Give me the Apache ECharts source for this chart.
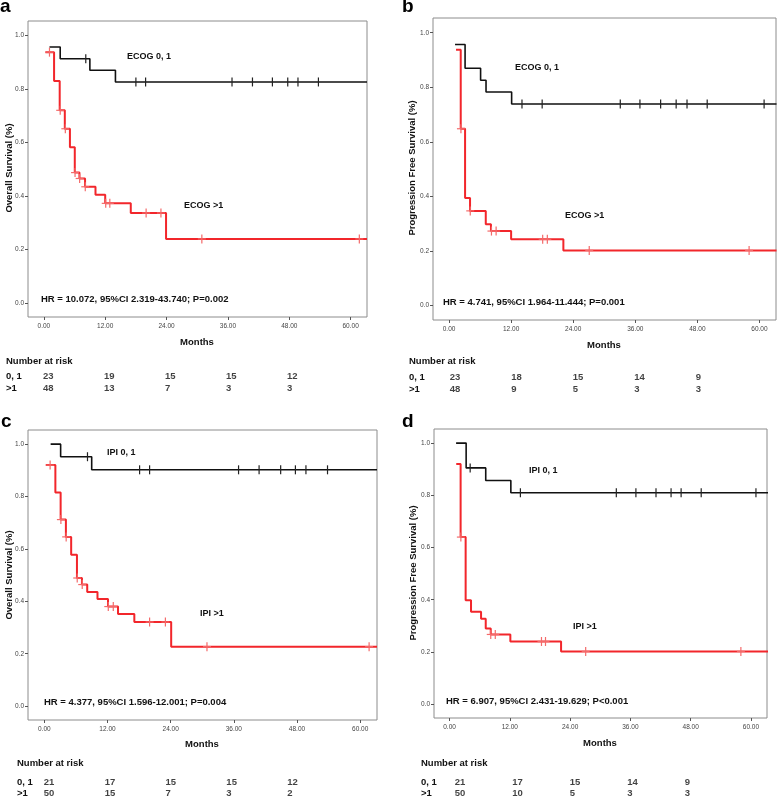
<!DOCTYPE html>
<html><head><meta charset="utf-8">
<script src="https://cdn.jsdelivr.net/npm/echarts@6/dist/echarts.min.js"></script>
<style>html,body{margin:0;padding:0;background:#fff}#c{width:778px;height:799px}</style>
</head><body><div id="c"></div>
<script>
// ---- tick labels ----
const monthTicks = [0, 12, 24, 36, 48, 60];
const survTicks = [0, 0.2, 0.4, 0.6, 0.8, 1.0];
const riskTimes = [0, 12, 24, 36, 48];

// ---- panel a: OS by ECOG ----
const aLowT  = [1.1, 3.2, 9.0, 14.0, 63.2];
const aLowS  = [0.957, 0.913, 0.870, 0.826, 0.826];
const aLowCens = [8.2, 18.0, 19.9, 36.8, 40.8, 44.7, 47.7, 49.7, 53.7];
const aHighT = [0.3, 2.0, 3.1, 4.1, 5.1, 6.05, 6.96, 8.06, 10.1, 12.0, 17.0, 23.9, 63.2];
const aHighS = [0.9375, 0.830, 0.720, 0.651, 0.582, 0.487, 0.465, 0.434, 0.404, 0.372, 0.336, 0.239, 0.239];
const aHighCens = [1.1, 3.2, 4.2, 6.1, 7.0, 8.1, 12.1, 12.9, 20.0, 22.9, 30.9, 61.7];
const aRiskLow = [23, 19, 15, 15, 12];
const aRiskHigh = [48, 13, 7, 3, 3];

// ---- panel b: PFS by ECOG ----
const bLowT  = [1.16, 3.1, 6.1, 7.15, 12.1, 63.3];
const bLowS  = [0.957, 0.870, 0.826, 0.783, 0.739, 0.739];
const bLowCens = [14.1, 18.0, 33.1, 36.9, 40.9, 43.9, 46.0, 49.9, 60.9];
const bHighT = [1.35, 2.26, 3.1, 4.06, 7.1, 8.1, 12.0, 22.1, 63.3];
const bHighS = [0.938, 0.648, 0.394, 0.347, 0.298, 0.273, 0.243, 0.202, 0.202];
const bHighCens = [2.3, 4.1, 8.2, 9.1, 18.1, 19.0, 27.1, 58.0];
const bRiskLow = [23, 18, 15, 14, 9];
const bRiskHigh = [48, 9, 5, 3, 3];

// ---- panel c: OS by IPI ----
const cLowT  = [1.2, 3.1, 9.0, 63.2];
const cLowS  = [1.0, 0.952, 0.902, 0.902];
const cLowCens = [8.2, 18.1, 20.0, 36.9, 40.8, 44.9, 47.7, 49.7, 53.8];
const cHighT = [0.27, 2.1, 3.1, 4.1, 5.1, 6.2, 7.15, 8.15, 10.1, 12.1, 14.0, 17.1, 24.1, 63.2];
const cHighS = [0.92, 0.815, 0.712, 0.646, 0.578, 0.489, 0.464, 0.436, 0.409, 0.380, 0.352, 0.321, 0.227, 0.227];
const cHighCens = [1.1, 3.15, 4.15, 6.25, 7.2, 12.15, 13.1, 20.0, 23.0, 30.9, 61.7];
const cRiskLow = [21, 17, 15, 15, 12];
const cRiskHigh = [50, 15, 7, 3, 2];

// ---- panel d: PFS by IPI ----
const dLowT  = [1.3, 3.3, 7.2, 12.2, 63.4];
const dLowS  = [1.0, 0.905, 0.857, 0.810, 0.810];
const dLowCens = [4.1, 14.1, 33.2, 37.1, 41.1, 44.1, 46.1, 50.1, 61.0];
const dHighT = [1.33, 2.2, 3.2, 4.27, 6.27, 7.2, 8.2, 12.1, 22.2, 63.4];
const dHighS = [0.92, 0.64, 0.398, 0.354, 0.327, 0.290, 0.267, 0.240, 0.202, 0.202];
const dHighCens = [2.25, 8.2, 9.1, 18.3, 19.1, 27.1, 58.0];
const dRiskLow = [21, 17, 15, 14, 9];
const dRiskHigh = [50, 10, 5, 3, 3];

// ---- texts ----
const panelLetters = ['a', 'b', 'c', 'd'];
const yTitles = ['Overall Survival (%)', 'Progression Free Survival (%)', 'Overall Survival (%)', 'Progression Free Survival (%)'];
const lowNames = ['ECOG 0, 1', 'ECOG 0, 1', 'IPI 0, 1', 'IPI 0, 1'];
const highNames = ['ECOG >1', 'ECOG >1', 'IPI >1', 'IPI >1'];
const hrTexts = ['HR = 10.072, 95%CI 2.319-43.740; P=0.002', 'HR = 4.741, 95%CI 1.964-11.444; P=0.001',
                 'HR = 4.377, 95%CI 1.596-12.001; P=0.004', 'HR = 6.907, 95%CI 2.431-19.629; P<0.001'];
const xTitle = 'Months';
const riskTitle = 'Number at risk';
const riskRowNames = ['0, 1', '>1'];

const data = [
  {lowT: aLowT, lowS: aLowS, lowC: aLowCens, highT: aHighT, highS: aHighS, highC: aHighCens, rl: aRiskLow, rh: aRiskHigh},
  {lowT: bLowT, lowS: bLowS, lowC: bLowCens, highT: bHighT, highS: bHighS, highC: bHighCens, rl: bRiskLow, rh: bRiskHigh},
  {lowT: cLowT, lowS: cLowS, lowC: cLowCens, highT: cHighT, highS: cHighS, highC: cHighCens, rl: cRiskLow, rh: cRiskHigh},
  {lowT: dLowT, lowS: dLowS, lowC: dLowCens, highT: dHighT, highS: dHighS, highC: dHighCens, rl: dRiskLow, rh: dRiskHigh}
];

// ---- layout (pixels) ----
const layout = [
  {box: [28, 21, 367, 317], letter: [0, 16], ytitle: [9, 168], low: [127, 57], high: [184, 206], hr: [41, 299], months: [197, 342],
   riskTitle: [6, 361], rowX: 6, rows: [376, 388], risk: [42.5, 286.5]},
  {box: [433, 18, 776, 320], letter: [402, 16], ytitle: [412, 168], low: [515, 68], high: [565, 216], hr: [443, 302], months: [604, 345],
   riskTitle: [409, 361], rowX: 409, rows: [377, 389], risk: [449.3, 695.3]},
  {box: [28, 430, 377, 720], letter: [1, 431], ytitle: [9, 575], low: [107, 453], high: [200, 614], hr: [44, 702], months: [202, 744],
   riskTitle: [17, 763], rowX: 17, rows: [782, 793.5], risk: [43.3, 286.7]},
  {box: [434, 429, 767, 718], letter: [402, 431], ytitle: [413, 573], low: [529, 471], high: [573, 627], hr: [446, 701], months: [600, 743],
   riskTitle: [421, 763], rowX: 421, rows: [782.3, 793.5], risk: [454.3, 684.3]}
];

const FONT = "'Liberation Sans', Arial, Helvetica, sans-serif";
const BLACK = '#111111';
const RED = '#f2262b';
const RED_MARK = '#f46a6a';

function survAt(ts, ss, t) {
  let s = ss[0];
  for (let i = 0; i < ts.length; i++) if (ts[i] <= t + 1e-9) s = ss[i];
  return s;
}

const grid = [], xAxis = [], yAxis = [], series = [], graphic = [];

function censorSeries(gi, ts, ss, cens, color, plus, z) {
  return {
    type: 'custom', xAxisIndex: gi, yAxisIndex: gi, z: z, silent: true,
    data: cens.map(t => [t, survAt(ts, ss, t)]),
    renderItem: function (params, api) {
      const p = api.coord([api.value(0), api.value(1)]);
      const ch = [{type: 'line', shape: {x1: p[0], y1: p[1] - 4.5, x2: p[0], y2: p[1] + 4.5},
                   style: {stroke: color, lineWidth: 1.2}}];
      if (plus) ch.push({type: 'line', shape: {x1: p[0] - 4, y1: p[1], x2: p[0] + 4, y2: p[1]},
                   style: {stroke: color, lineWidth: 1.2}});
      return {type: 'group', children: ch};
    }
  };
}

data.forEach((d, i) => {
  const L = layout[i];
  const [x0, y0, x1, y1] = L.box;
  const mi = 2 * i, ri = 2 * i + 1;
  // main plot
  grid.push({left: x0, top: y0, width: x1 - x0, height: y1 - y0, show: true, borderColor: '#8c8c8c', borderWidth: 1,
             backgroundColor: 'transparent'});
  xAxis.push({type: 'value', gridIndex: mi, min: -3.1, max: 63.2, position: 'bottom',
    axisLine: {show: false, onZero: false}, splitLine: {show: false},
    axisTick: {show: true, customValues: monthTicks, length: 3, lineStyle: {color: '#555', width: 1}},
    axisLabel: {customValues: monthTicks, formatter: v => v.toFixed(2), fontSize: 6.5, color: '#444', margin: 6, fontFamily: FONT}
  });
  yAxis.push({type: 'value', gridIndex: mi, min: -0.053, max: 1.054, position: 'left',
    axisLine: {show: false, onZero: false}, splitLine: {show: false},
    axisTick: {show: true, customValues: survTicks, length: 3, lineStyle: {color: '#555', width: 1}},
    axisLabel: {customValues: survTicks, formatter: v => v.toFixed(1), fontSize: 6.5, color: '#444', margin: 4, fontFamily: FONT}
  });
  // number-at-risk table grid
  grid.push({left: L.risk[0], top: L.rows[0], width: L.risk[1] - L.risk[0], height: L.rows[1] - L.rows[0], show: false});
  xAxis.push({type: 'value', gridIndex: ri, min: 0, max: 48, show: false});
  yAxis.push({type: 'value', gridIndex: ri, min: 0, max: 1, show: false});

  series.push({type: 'line', xAxisIndex: mi, yAxisIndex: mi, step: 'end', showSymbol: false, silent: true, z: 3,
    data: d.lowT.map((t, k) => [t, d.lowS[k]]), lineStyle: {color: BLACK, width: 1.6}});
  series.push({type: 'line', xAxisIndex: mi, yAxisIndex: mi, step: 'end', showSymbol: false, silent: true, z: 4,
    data: d.highT.map((t, k) => [t, d.highS[k]]), lineStyle: {color: RED, width: 2}});
  series.push(censorSeries(mi, d.lowT, d.lowS, d.lowC, '#222', false, 5));
  series.push(censorSeries(mi, d.highT, d.highS, d.highC, RED_MARK, true, 6));

  const riskLabel = {show: true, position: 'right', distance: 0, formatter: p => String(p.value[2]),
                     fontSize: 9.5, fontWeight: 'bold', color: '#111', fontFamily: FONT};
  series.push({type: 'scatter', xAxisIndex: ri, yAxisIndex: ri, symbolSize: 1, silent: true,
    itemStyle: {color: 'rgba(0,0,0,0)'}, label: riskLabel,
    data: riskTimes.map((t, k) => [t, 1, d.rl[k]])});
  series.push({type: 'scatter', xAxisIndex: ri, yAxisIndex: ri, symbolSize: 1, silent: true,
    itemStyle: {color: 'rgba(0,0,0,0)'}, label: riskLabel,
    data: riskTimes.map((t, k) => [t, 0, d.rh[k]])});

  // texts
  const txt = (x, y, s, opt) => graphic.push(Object.assign({type: 'text', x: x, y: y, silent: true,
      style: Object.assign({text: s, fontFamily: FONT, fontWeight: 'bold', fontSize: 9.5, fill: '#111',
        textAlign: 'left', textVerticalAlign: 'middle'}, opt && opt.style)}, opt && opt.el));
  txt(L.letter[0], L.letter[1], panelLetters[i], {style: {fontSize: 19, textVerticalAlign: 'bottom', fill: '#000'}});
  txt(L.ytitle[0], L.ytitle[1], yTitles[i], {style: {textAlign: 'center', fontSize: 9.5}, el: {rotation: Math.PI / 2}});
  txt(L.low[0], L.low[1], lowNames[i], {style: {fontSize: 9}});
  txt(L.high[0], L.high[1], highNames[i], {style: {fontSize: 9}});
  txt(L.hr[0], L.hr[1], hrTexts[i]);
  txt(L.months[0], L.months[1], xTitle, {style: {textAlign: 'center'}});
  txt(L.riskTitle[0], L.riskTitle[1], riskTitle);
  txt(L.rowX, L.rows[0], riskRowNames[0]);
  txt(L.rowX, L.rows[1], riskRowNames[1]);
});

const chart = echarts.init(document.getElementById('c'), null, {renderer: 'canvas'});
chart.setOption({animation: false, backgroundColor: '#fff', grid, xAxis, yAxis, series, graphic});
</script>
</body></html>
